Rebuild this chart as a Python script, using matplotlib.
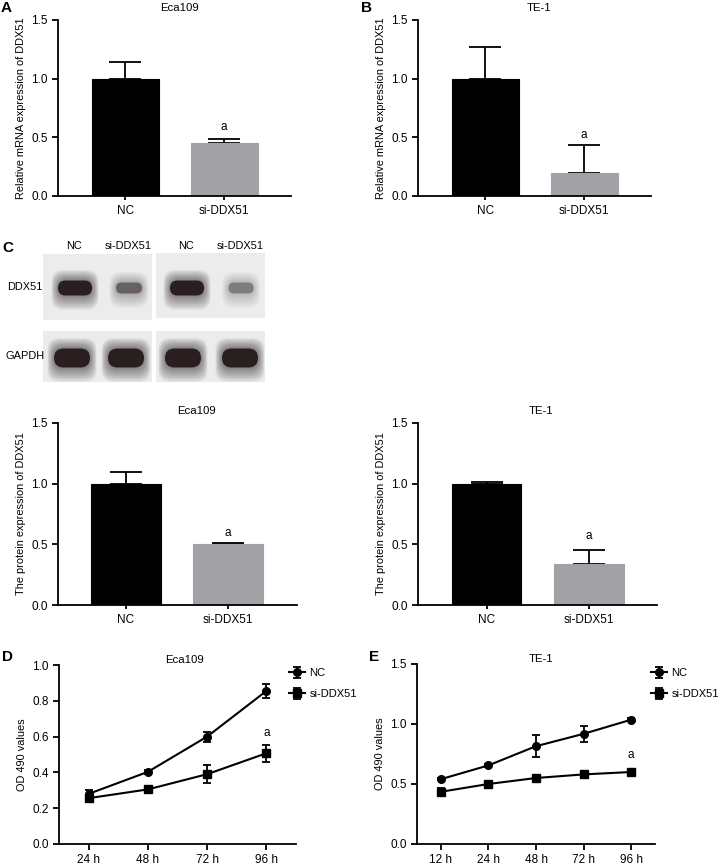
#!/usr/bin/env python3
"""DDX51 knockdown figure: qPCR bars, western blot, protein bars and OD490 growth curves."""

import matplotlib.pyplot as plt
from matplotlib.patches import FancyBboxPatch, Rectangle

plt.rcParams["font.family"] = ["Liberation Sans", "DejaVu Sans"]

W, H = 720, 868

GROUPS = ["NC", "si-DDX51"]
BAR_COLORS = ["#000000", "#a2a2a6"]

# A / B: relative mRNA expression
MRNA_ECA = [1.00, 0.45]
MRNA_ECA_ERR = [0.14, 0.04]
MRNA_TE = [1.00, 0.195]
MRNA_TE_ERR = [0.27, 0.24]

# C: protein expression
PROT_ECA = [1.00, 0.50]
PROT_ECA_ERR = [0.10, 0.01]
PROT_TE = [1.00, 0.335]
PROT_TE_ERR = [0.01, 0.12]

# D: Eca109 OD490
D_TIMES = ["24 h", "48 h", "72 h", "96 h"]
D_NC = [0.28, 0.403, 0.60, 0.855]
D_NC_ERR = [0.02, 0.01, 0.028, 0.04]
D_SI = [0.256, 0.305, 0.39, 0.507]
D_SI_ERR = [0.015, 0.01, 0.05, 0.047]

# E: TE-1 OD490
E_TIMES = ["12 h", "24 h", "48 h", "72 h", "96 h"]
E_NC = [0.54, 0.655, 0.815, 0.918, 1.036]
E_NC_ERR = [0.01, 0.01, 0.09, 0.065, 0.01]
E_SI = [0.435, 0.50, 0.55, 0.58, 0.60]
E_SI_ERR = [0.03, 0.01, 0.01, 0.01, 0.01]

# Western blot band intensities (0..1): [left NC, left si, right NC, right si]
BLOT_LANES = ["NC", "si-DDX51", "NC", "si-DDX51"]
BAND_DDX51 = [1.0, 0.55, 1.0, 0.42]
BAND_GAPDH = [1.0, 1.0, 1.0, 1.0]

FONT_TICK = 8.5
FONT_LABEL = 7.9
FONT_TITLE = 8.2
FONT_LEGEND = 8.0
SPINE_W = 1.3


def px_axes(fig, left, top, right, bottom):
    return fig.add_axes([left / W, 1 - bottom / H, (right - left) / W, (bottom - top) / H])


def style_axes(ax):
    for side in ("top", "right"):
        ax.spines[side].set_visible(False)
    for side in ("left", "bottom"):
        ax.spines[side].set_linewidth(SPINE_W)
    ax.tick_params(labelsize=FONT_TICK, width=SPINE_W, length=4, direction="out")


def bar_panel(fig, box, xlim, vals, errs, ylabel, title, title_x, a_y):
    ax = px_axes(fig, *box)
    x = range(len(GROUPS))
    ax.bar(x, vals, width=0.68, color=BAR_COLORS, edgecolor=BAR_COLORS, linewidth=0.8, zorder=2)
    ax.errorbar(x, vals, yerr=[[0] * len(errs), errs], fmt="none", ecolor="black",
                elinewidth=1.3, capsize=11.5, capthick=1.3, zorder=1)
    ax.set_xlim(*xlim)
    ax.set_ylim(0, 1.5)
    ax.set_yticks([0, 0.5, 1.0, 1.5])
    ax.set_yticklabels(["0.0", "0.5", "1.0", "1.5"])
    ax.set_xticks(list(x))
    ax.set_xticklabels(GROUPS)
    style_axes(ax)
    ax.tick_params(axis="x", length=3)
    ax.set_ylabel(ylabel, fontsize=FONT_LABEL, labelpad=4)
    ax.text(title_x, 1.04, title, transform=ax.transAxes, ha="center", va="bottom", fontsize=FONT_TITLE)
    ax.text(1, a_y, "a", ha="center", va="center", fontsize=FONT_TICK)
    return ax


def line_panel(fig, box, times, nc, nc_err, si, si_err, ylim, yticks, title, title_x, a_y, leg_xy):
    ax = px_axes(fig, *box)
    x = list(range(1, len(times) + 1))
    h_nc = ax.errorbar(x, nc, yerr=nc_err, color="black", marker="o", markersize=5.5,
                       linewidth=1.5, elinewidth=1.3, capsize=3, capthick=1.3, label="NC")
    h_si = ax.errorbar(x, si, yerr=si_err, color="black", marker="s", markersize=5.5,
                       linewidth=1.5, elinewidth=1.3, capsize=3, capthick=1.3, label="si-DDX51")
    ax.set_xlim(0.5, len(times) + 0.5)
    ax.set_ylim(*ylim)
    ax.set_yticks(yticks)
    ax.set_yticklabels([f"{t:.1f}" for t in yticks])
    ax.set_xticks(x)
    ax.set_xticklabels(times)
    style_axes(ax)
    ax.set_ylabel("OD 490 values", fontsize=FONT_LABEL, labelpad=4)
    ax.text(title_x, 1.0, title, transform=ax.transAxes, ha="center", va="bottom", fontsize=FONT_TITLE)
    ax.text(x[-1], a_y, "a", ha="center", va="center", fontsize=FONT_TICK)
    ax.legend(handles=[h_nc, h_si], loc="upper left", bbox_to_anchor=(leg_xy[0] / W, 1 - leg_xy[1] / H),
              bbox_transform=fig.transFigure, frameon=False, fontsize=FONT_LEGEND,
              handlelength=1.4, handletextpad=0.45, labelspacing=1.0, borderaxespad=0, borderpad=0)
    return ax


def draw_band(ov, cx, cy, w, h, level, color="#1e1416"):
    # soft halo then solid core
    for k in range(10, 0, -1):
        pad = k * 1.3
        ov.add_patch(FancyBboxPatch((cx - w / 2 - pad * 0.5, cy - h / 2 - pad * 0.8), w + pad, h + 1.9 * pad,
                                    boxstyle=f"round,pad=0,rounding_size={min(h / 2 + pad, 12)}",
                                    facecolor=color, edgecolor="none", alpha=0.06 * level))
    ov.add_patch(FancyBboxPatch((cx - w / 2, cy - h / 2), w, h,
                                boxstyle=f"round,pad=0,rounding_size={h / 2}",
                                facecolor=color, edgecolor="none", alpha=0.9 * level))


def main():
    fig = plt.figure(figsize=(W / 100, H / 100), dpi=100)

    bar_panel(fig, (58, 20, 291, 196), (-0.685, 1.68), MRNA_ECA, MRNA_ECA_ERR,
              "Relative mRNA expression of DDX51", "Eca109", 0.52, 0.59)
    bar_panel(fig, (418, 20, 651, 196), (-0.685, 1.68), MRNA_TE, MRNA_TE_ERR,
              "Relative mRNA expression of DDX51", "TE-1", 0.52, 0.52)
    bar_panel(fig, (58, 423, 297, 605), (-0.667, 1.676), PROT_ECA, PROT_ECA_ERR,
              "The protein expression of DDX51", "Eca109", 0.58, 0.59)
    bar_panel(fig, (418, 423, 657, 605), (-0.668, 1.66), PROT_TE, PROT_TE_ERR,
              "The protein expression of DDX51", "TE-1", 0.515, 0.57)

    line_panel(fig, (59, 665, 296, 844), D_TIMES, D_NC, D_NC_ERR, D_SI, D_SI_ERR,
               (0, 1.0), [0.0, 0.2, 0.4, 0.6, 0.8, 1.0], "Eca109", 0.53, 0.62, (289, 668))
    line_panel(fig, (417, 664, 655, 844), E_TIMES, E_NC, E_NC_ERR, E_SI, E_SI_ERR,
               (0, 1.5), [0.0, 0.5, 1.0, 1.5], "TE-1", 0.52, 0.745, (651, 668))

    # overlay in pixel coordinates for blot and panel letters
    ov = fig.add_axes([0, 0, 1, 1], facecolor="none")
    ov.set_xlim(0, W)
    ov.set_ylim(H, 0)
    ov.axis("off")

    for (x0, y0, x1, y1) in [(43, 254, 152, 320), (156, 253, 265, 318), (43, 331, 152, 382), (156, 331, 265, 382)]:
        ov.add_patch(Rectangle((x0, y0), x1 - x0, y1 - y0, facecolor="#ececec", edgecolor="none"))

    lane_x = [74, 128, 186, 240]
    for lx, lab in zip(lane_x, BLOT_LANES):
        ov.text(lx, 246, lab, ha="center", va="center", fontsize=FONT_LABEL)
    ddx_x = [75, 129, 187, 241]
    ddx_w = [34, 26, 34, 25]
    for cx, w, lv in zip(ddx_x, ddx_w, BAND_DDX51):
        draw_band(ov, cx, 288, w, 15 if lv > 0.8 else 11, lv)
    gap_x = [72, 126, 183, 240]
    for cx, lv in zip(gap_x, BAND_GAPDH):
        draw_band(ov, cx, 358, 36, 19, lv)
    ov.text(25, 287, "DDX51", ha="center", va="center", fontsize=FONT_LABEL)
    ov.text(25, 356, "GAPDH", ha="center", va="center", fontsize=FONT_LABEL)

    for letter, lx, ly in [("A", 1, 8), ("B", 361, 8), ("C", 2, 248), ("D", 2, 657), ("E", 369, 657)]:
        ov.text(lx, ly, letter, ha="left", va="center", fontsize=11, fontweight="bold")

    fig.savefig("out.png", dpi=100)
    plt.close(fig)


if __name__ == "__main__":
    main()
